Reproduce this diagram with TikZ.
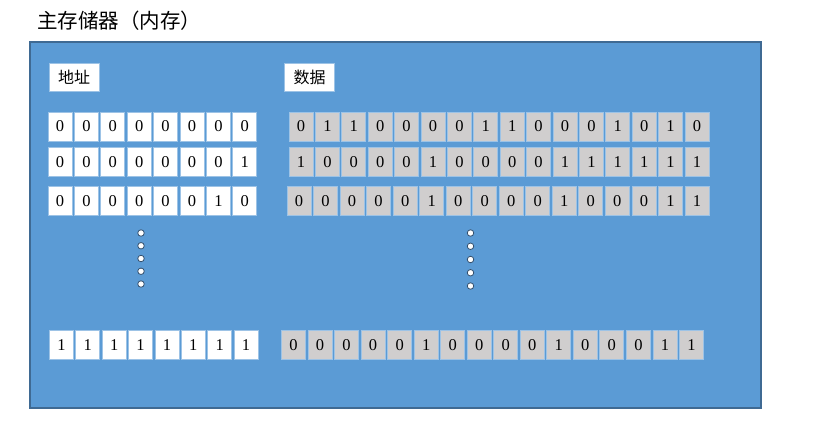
\documentclass[tikz,border=0pt]{standalone}
\usepackage{fontspec}
\setmainfont{Liberation Serif}
\newfontfamily\cjk{Noto Sans CJK SC}

\definecolor{memblue}{HTML}{5B9BD5}
\definecolor{memedge}{HTML}{3F6A93}
\definecolor{celledge}{HTML}{9DC3E6}
\definecolor{cellgray}{HTML}{D0CECE}
\definecolor{dotedge}{HTML}{34506E}

\tikzset{
	cell/.style={draw=celledge, line width=0.8, minimum width=24, minimum height=29, inner sep=0, font=\fontsize{16.5}{16.5}\selectfont},
	addr/.style={cell, fill=white},
	data/.style={cell, fill=cellgray},
	tag/.style={draw=celledge, fill=white, line width=0.8, minimum width=50, minimum height=28, inner sep=0, font=\cjk\fontsize{16}{16}\selectfont},
	dot/.style={circle, draw=dotedge, fill=white, line width=0.8, minimum size=6.5, inner sep=0}
}

\begin{document}
\begin{tikzpicture}[x=1pt, y=-1pt]
\useasboundingbox (0,0) rectangle (829,429);

\node (title) at (37,21) [anchor=west, inner sep=0, font=\cjk\fontsize{20.5}{20.5}\selectfont] {主存储器（内存）};

% memory body
\draw [fill=memblue, draw=memedge, line width=1.2] (30,42) rectangle (761,408);

\node (addrtag) at (74,77) [tag] {地址};
\node (datatag) at (309.5,77) [tag] {数据};

% address cells
\foreach \r/\yy/\xx/\dx/\bits in {1/126.5/60/26.4/{0,0,0,0,0,0,0,0},
		2/162/60/26.4/{0,0,0,0,0,0,0,1},
		3/201/60/26.4/{0,0,0,0,0,0,1,0},
		4/345/61.5/26.36/{1,1,1,1,1,1,1,1}}
	\foreach \b [count=\i from 0] in \bits
		\node (addr-\r-\i) at (\xx+\i*\dx,\yy) [addr] {\b};

% data cells
\foreach \r/\yy/\xx/\dx/\bits in {1/126.5/301/26.4/{0,1,1,0,0,0,0,1,1,0,0,0,1,0,1,0},
		2/162/301/26.4/{1,0,0,0,0,1,0,0,0,0,1,1,1,1,1,1},
		3/201/299/26.53/{0,0,0,0,0,1,0,0,0,0,1,0,0,0,1,1},
		4/345/293.5/26.53/{0,0,0,0,0,1,0,0,0,0,1,0,0,0,1,1}}
	\foreach \b [count=\i from 0] in \bits
		\node (data-\r-\i) at (\xx+\i*\dx,\yy) [data] {\b};

% ellipsis dots
\foreach \i in {0,...,4} {
	\node (ldot\i) at (141,233+12.75*\i) [dot] {};
	\node (rdot\i) at (470.5,233+13.25*\i) [dot] {};
}

\end{tikzpicture}
\end{document}
